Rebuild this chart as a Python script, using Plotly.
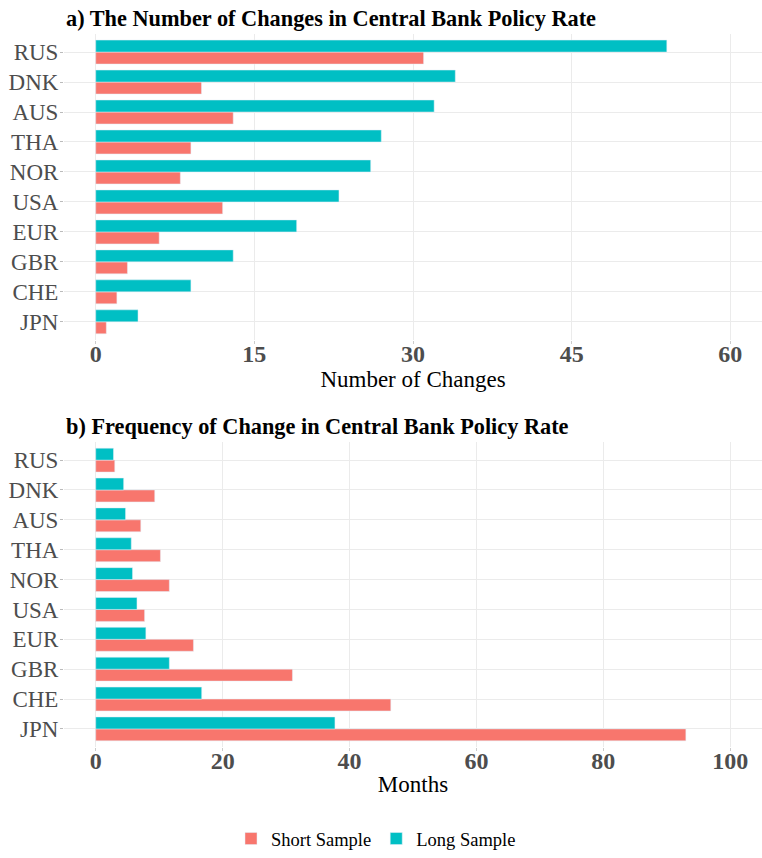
import plotly.graph_objects as go

countries = ["JPN", "CHE", "GBR", "EUR", "USA", "NOR", "THA", "AUS", "DNK", "RUS"]

# a) number of changes
changes_short = [1, 2, 3, 6, 12, 8, 9, 13, 10, 31]
changes_long = [4, 9, 13, 19, 23, 26, 27, 32, 34, 54]

# b) frequency of change (months)
freq_short = [93.0, 46.5, 31.0, 15.4, 7.7, 11.6, 10.2, 7.1, 9.3, 3.0]
freq_long = [37.7, 16.7, 11.6, 7.9, 6.5, 5.8, 5.6, 4.7, 4.4, 2.8]

RED = "#F8766D"
TEAL = "#00BFC4"
FONT = "Times New Roman, Liberation Serif, serif"
GRID = "#EBEBEB"
TICK = "#4D4D4D"

fig = go.Figure()

fig.add_trace(go.Bar(y=countries, x=changes_short, orientation="h", marker_color=RED,
                     name="Short Sample", legendgroup="s", xaxis="x", yaxis="y"))
fig.add_trace(go.Bar(y=countries, x=changes_long, orientation="h", marker_color=TEAL,
                     name="Long Sample", legendgroup="l", xaxis="x", yaxis="y"))
fig.add_trace(go.Bar(y=countries, x=freq_short, orientation="h", marker_color=RED,
                     name="Short Sample", legendgroup="s", showlegend=False, xaxis="x2", yaxis="y2"))
fig.add_trace(go.Bar(y=countries, x=freq_long, orientation="h", marker_color=TEAL,
                     name="Long Sample", legendgroup="l", showlegend=False, xaxis="x2", yaxis="y2"))

xcommon = dict(showgrid=True, gridcolor=GRID, gridwidth=1, zeroline=False, showline=False,
               ticks="outside", ticklen=3, tickcolor="#CCCCCC", automargin=False,
               ticklabelstandoff=-11,
               tickfont=dict(family=FONT, size=24, color=TICK, weight="bold"),
               title_font=dict(family=FONT, size=23, color="black"))
ycommon = dict(type="category", categoryorder="array", categoryarray=countries,
               range=[-0.6, 9.6], showgrid=True, gridcolor=GRID, gridwidth=1, zeroline=False,
               ticks="outside", ticklen=3, tickcolor="#BBBBBB", showline=False, automargin=False,
               ticklabelstandoff=-3,
               tickfont=dict(family=FONT, size=23, color=TICK))

fig.update_layout(
    width=762, height=858,
    margin=dict(l=64, r=0, t=0, b=0),
    plot_bgcolor="white", paper_bgcolor="white",
    barmode="group", bargap=0.2, bargroupgap=0,
    xaxis=dict(xcommon, domain=[0, 1], anchor="y", range=[-3, 63], title_standoff=0,
               tickvals=[0, 15, 30, 45, 60], title_text="Number of Changes"),
    yaxis=dict(ycommon, domain=[0.6021, 0.9601], anchor="x"),
    xaxis2=dict(xcommon, domain=[0, 1], anchor="y2", range=[-5, 105], title_standoff=3,
                tickvals=[0, 20, 40, 60, 80, 100], title_text="Months"),
    yaxis2=dict(ycommon, domain=[0.1255, 0.4822], anchor="x2"),
    legend=dict(orientation="h", x=0.447, xanchor="center", y=0.0175, yanchor="middle",
                font=dict(family=FONT, size=18.5, color="black"), itemwidth=30),
    annotations=[
        dict(text="<b>a) The Number of Changes in Central Bank Policy Rate</b>", xref="paper",
             yref="paper", x=0, y=0.9787, xanchor="left", yanchor="middle",
             showarrow=False, font=dict(family=FONT, size=22.3, color="black")),
        dict(text="<b>b) Frequency of Change in Central Bank Policy Rate</b>", xref="paper",
             yref="paper", x=0, y=0.5006, xanchor="left", yanchor="middle",
             showarrow=False, font=dict(family=FONT, size=22.3, color="black")),
    ],
)

# drop the browser's default 8px body margin so the figure fills the window
fig.write_html("out.html", config={"displayModeBar": False},
               post_script="document.body.style.margin = '0';")
